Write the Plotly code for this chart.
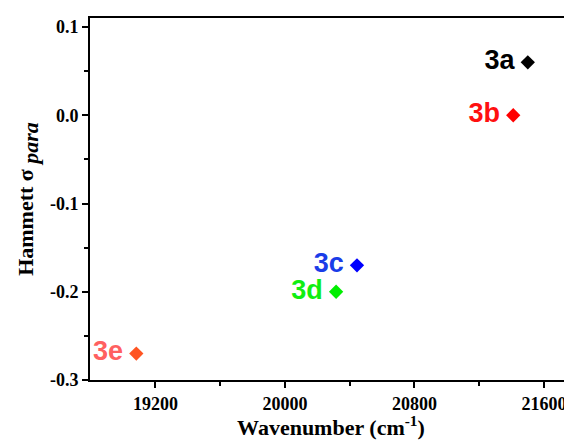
import plotly.graph_objects as go

labels = ["3a", "3b", "3c", "3d", "3e"]
wavenumber = [21500, 21410, 20445, 20316, 19082]
sigma_para = [0.06, 0.0, -0.17, -0.20, -0.27]
marker_colors = ["#000000", "#ff0000", "#0000ff", "#00ee00", "#ff5522"]
text_colors = ["#000000", "#ff1010", "#1a3ce8", "#11ee11", "#ff6060"]

x_ticks = [19200, 20000, 20800, 21600]
y_ticks = [0.1, 0.0, -0.1, -0.2, -0.3]
y_ticklabels = ["0.1", "0.0", "-0.1", "-0.2", "-0.3"]

fig = go.Figure()
fig.add_trace(go.Scatter(
    x=wavenumber, y=sigma_para, mode="markers+text",
    text=["<b>%s</b>&#8201;" % s for s in labels], textposition="middle left",
    textfont=dict(family="Liberation Sans, Arial", size=27, color=text_colors),
    marker=dict(symbol="diamond", size=11, color=marker_colors, line=dict(width=0)),
    showlegend=False, cliponaxis=False,
))

axis_font = dict(family="Liberation Serif, Times New Roman", size=18, color="black")
title_font = dict(family="Liberation Serif, Times New Roman", size=22, color="black")

fig.update_layout(
    width=564, height=432,
    margin=dict(l=82, r=0, t=10, b=60, autoexpand=False),
    paper_bgcolor="white", plot_bgcolor="white",
    xaxis=dict(
        range=[18796, 21773], tickvals=x_ticks, ticktext=["<b>%d</b>" % v for v in x_ticks],
        showline=True, linecolor="black", linewidth=2, mirror=True, automargin=False,
        ticks="outside", ticklen=6, tickwidth=2, tickcolor="black",
        minor=dict(tickvals=[19600, 20400, 21200], ticks="outside", ticklen=4, tickwidth=2, tickcolor="black"),
        showgrid=False, zeroline=False, tickfont=axis_font,
        title=dict(text="<b>Wavenumber (cm<sup>-1</sup>)</b>", font=title_font, standoff=2),
    ),
    yaxis=dict(
        range=[-0.3, 0.1102], tickvals=y_ticks, ticktext=["<b>%s</b>" % s for s in y_ticklabels],
        showline=True, linecolor="black", linewidth=2, automargin=False,
        ticks="outside", ticklen=6, tickwidth=2, tickcolor="black",
        minor=dict(tickvals=[0.05, -0.05, -0.15, -0.25], ticks="outside", ticklen=4, tickwidth=2, tickcolor="black"),
        showgrid=False, zeroline=False, tickfont=axis_font,
        title=dict(text="<b>Hammett σ <sub><i><span style=\"font-size:22px\">para</span></i></sub></b>",
                   font=title_font, standoff=10),
    ),
)

fig.write_html("out.html")
